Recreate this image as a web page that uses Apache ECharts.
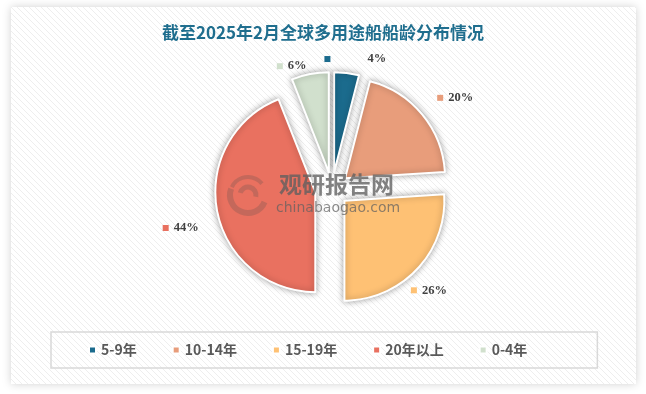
<!DOCTYPE html>
<html><head><meta charset="utf-8">
<script src="https://cdn.jsdelivr.net/npm/echarts@6/dist/echarts.min.js"></script>
<style>html,body{margin:0;padding:0;background:#fff}#c{width:646px;height:394px}</style>
</head><body><div id="c"></div>
<script>
const titleText = '截至2025年2月全球多用途船船龄分布情况';
const categories = ['5-9年', '10-14年', '15-19年', '20年以上', '0-4年'];
const shares = [4, 20, 26, 44, 6];
const colors = ['#1B6B8D', '#E89D7B', '#FEC174', '#E97160', '#D1E0CD'];

// stripe pattern for panel background
const pc = document.createElement('canvas');
pc.width = 6; pc.height = 6;
const pctx = pc.getContext('2d');
pctx.fillStyle = '#ffffff'; pctx.fillRect(0, 0, 6, 6);
pctx.fillStyle = '#eeeeee';
for (let i = 0; i < 6; i++) { pctx.fillRect(i, i, 1, 1); }

const chart = echarts.init(document.getElementById('c'), null, {renderer: 'canvas'});
const rich = {};
colors.forEach((c, i) => {
  rich['m' + i] = { width: 6, height: 6, backgroundColor: c };
  rich['v' + i] = { fontFamily: 'Liberation Serif', fontWeight: 'bold', fontSize: 12.5, color: '#404040',
                    padding: [0, 0, 0, i === 0 ? 37 : 5] };
});

// label placement styling (distance along the slice direction, then horizontal shift)
const labelLens = [14, 26, 31, 91, 8];
const labelLens2 = [-29, -10, -34, -76, -3];

const data = categories.map((n, i) => ({
  name: n, value: shares[i], selected: true,
  itemStyle: { color: colors[i] },
  labelLine: { show: false, length: labelLens[i], length2: labelLens2[i] }
}));

const wm = 'rgba(160,95,85,0.5)';
chart.setOption({
  backgroundColor: '#ffffff',
  animation: false,
  graphic: [
    { type: 'rect', left: 11, top: 7, z: -10, shape: { width: 625, height: 377 },
      style: { fill: { image: pc, repeat: 'repeat' }, shadowBlur: 8, shadowColor: 'rgba(0,0,0,0.18)' } },
    { type: 'arc', z: 100, shape: { cx: 248, cy: 195, r: 18, startAngle: 0.4, endAngle: 3.5 }, style: { stroke: wm, lineWidth: 6, fill: null } },
    { type: 'arc', z: 100, shape: { cx: 248, cy: 195, r: 18, startAngle: 3.6, endAngle: 5.6 }, style: { stroke: wm, lineWidth: 4, fill: null } },
    { type: 'arc', z: 100, shape: { cx: 248, cy: 195, r: 8, startAngle: 3.4, endAngle: 6.5 }, style: { stroke: wm, lineWidth: 5, fill: null } },
    { type: 'text', z: 100, x: 279, y: 173, style: { text: '观研报告网', font: 'bold 23px "Noto Sans CJK SC"', fill: 'rgba(95,95,95,0.78)' } },
    { type: 'text', z: 100, x: 276, y: 201, style: { text: 'chinabaogao.com', font: '14px "DejaVu Sans"', fill: 'rgba(95,95,95,0.72)' } }
  ],
  title: {
    text: titleText, left: 'center', top: 19,
    textStyle: { fontFamily: 'Noto Sans CJK SC', fontWeight: 'bold', fontSize: 17, color: '#1F6E8E' }
  },
  legend: {
    data: categories, left: 51, top: 332,
    padding: [11, 70, 11, 37], itemGap: 35, itemWidth: 7, itemHeight: 7, icon: 'rect',
    borderColor: '#d9d9d9', borderWidth: 1.5,
    textStyle: { fontFamily: 'Noto Sans CJK SC', fontWeight: 'bold', fontSize: 14, color: '#595959' }
  },
  series: [{
    type: 'pie', center: [332, 189], radius: 100, startAngle: 90, clockwise: true,
    selectedMode: 'multiple', selectedOffset: 17, avoidLabelOverlap: false,
    emphasis: { disabled: true },
    itemStyle: { borderColor: '#ffffff', borderWidth: 2, shadowBlur: 6, shadowColor: 'rgba(0,0,0,0.35)' },
    select: { itemStyle: { borderColor: '#ffffff', borderWidth: 2 } },
    label: {
      show: true, position: 'outside',
      formatter: p => '{m' + p.dataIndex + '|}{v' + p.dataIndex + '|' + p.value + '%}',
      rich: rich
    },
    labelLine: { show: false },
    data: data
  }]
});
</script></body></html>
